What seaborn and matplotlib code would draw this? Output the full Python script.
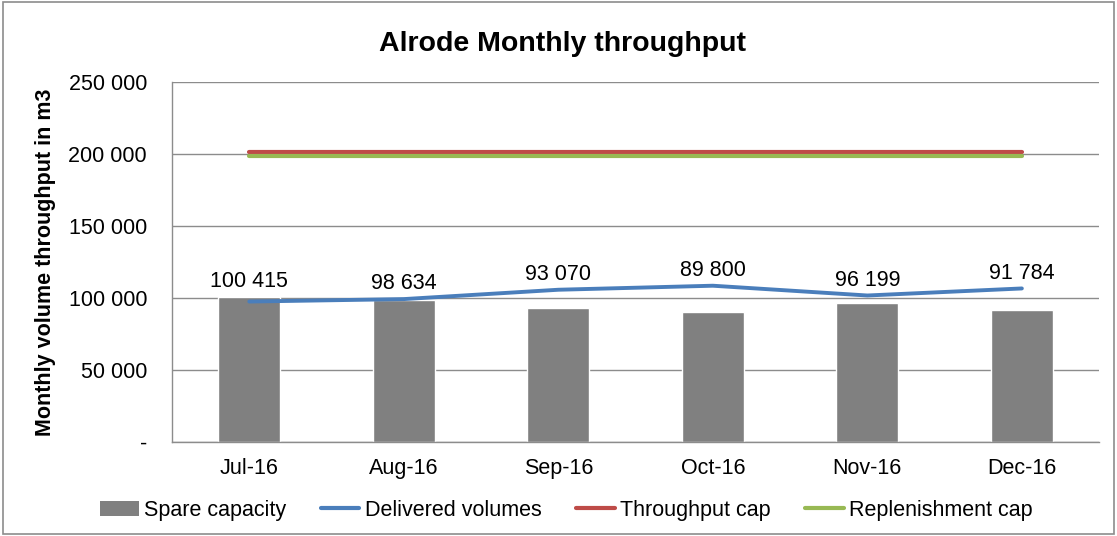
import pandas as pd
import numpy as np
import matplotlib
matplotlib.use('Agg')
import matplotlib.pyplot as plt
import seaborn as sns
from matplotlib.patches import Rectangle
from matplotlib.lines import Line2D
from matplotlib.patches import Patch

months = ['Jul-16', 'Aug-16', 'Sep-16', 'Oct-16', 'Nov-16', 'Dec-16']
spare = [100415, 98634, 93070, 89800, 96199, 91784]
delivered = [97400, 99100, 105600, 108400, 101600, 106500]
throughput_cap = [201600, 201600, 201600, 201600, 201600, 201600]
replenish_cap = [198800, 198800, 198800, 198800, 198800, 198800]

df = pd.DataFrame({'month': months, 'spare': spare, 'delivered': delivered,
                   'tcap': throughput_cap, 'rcap': replenish_cap})

sns.set_theme(style='white')
plt.rcParams['font.family'] = ['Liberation Sans', 'DejaVu Sans']
plt.rcParams['text.color'] = 'black'
plt.rcParams['xtick.color'] = 'black'
plt.rcParams['ytick.color'] = 'black'
plt.rcParams['axes.labelcolor'] = 'black'

fig = plt.figure(figsize=(11.17, 5.36), dpi=100)
ax = fig.add_axes([0.154, 0.176, 0.83, 0.671])

sns.barplot(data=df, x='month', y='spare', color='#808080', width=0.4,
            saturation=1, ax=ax, zorder=2)
x = np.arange(len(months))
sns.lineplot(x=x, y=df['delivered'], color='#4A7EBB', linewidth=2.8, ax=ax, zorder=3)
sns.lineplot(x=x, y=df['tcap'], color='#BE4B48', linewidth=3, ax=ax, zorder=3)
sns.lineplot(x=x, y=df['rcap'], color='#98B954', linewidth=3, ax=ax, zorder=3)

# value labels above bar / line
for i, (s, d) in enumerate(zip(spare, delivered)):
    top = max(s, d)
    ax.annotate(f'{s:,}'.replace(',', ' '), (i, top), xytext=(0, 11),
                textcoords='offset points', ha='center', va='center', fontsize=15.5)

ax.set_xlim(-0.5, len(months) - 0.5)
ax.set_ylim(0, 250000)
ax.set_yticks([0, 50000, 100000, 150000, 200000, 250000])
ax.set_yticklabels(['-', '50 000', '100 000', '150 000', '200 000', '250 000'])
ax.yaxis.grid(True, color='#8c8c8c', linewidth=1)
ax.set_axisbelow(True)
ax.tick_params(axis='both', labelsize=15.5, length=0)
ax.tick_params(axis='x', pad=12)
ax.tick_params(axis='y', pad=18)
ax.set_xlabel('')
ax.set_ylabel('Monthly volume throughput in m3', fontsize=15.5, fontweight='bold', labelpad=9)
for side in ['top', 'right']:
    ax.spines[side].set_visible(False)
for side in ['left', 'bottom']:
    ax.spines[side].set_color('#8c8c8c')
    ax.spines[side].set_linewidth(1)

fig.text(0.504, 0.918, 'Alrode Monthly throughput', ha='center', va='center',
         fontsize=20.5, fontweight='bold')

handles = [Patch(facecolor='#808080', edgecolor='none'),
           Line2D([0], [0], color='#4A7EBB', linewidth=3),
           Line2D([0], [0], color='#BE4B48', linewidth=3),
           Line2D([0], [0], color='#98B954', linewidth=3)]
labels = ['Spare capacity', 'Delivered volumes', 'Throughput cap', 'Replenishment cap']
fig.legend(handles, labels, loc='center', bbox_to_anchor=(0.507, 0.048), ncol=4,
           frameon=False, fontsize=15.5, handlelength=1.8, handletextpad=0.25,
           columnspacing=1.6)

fig.patches.append(Rectangle((0.003, 0.004), 0.994, 0.992, transform=fig.transFigure,
                             fill=False, edgecolor='#8c8c8c', linewidth=1.2))

fig.savefig('out.png', dpi=100)
